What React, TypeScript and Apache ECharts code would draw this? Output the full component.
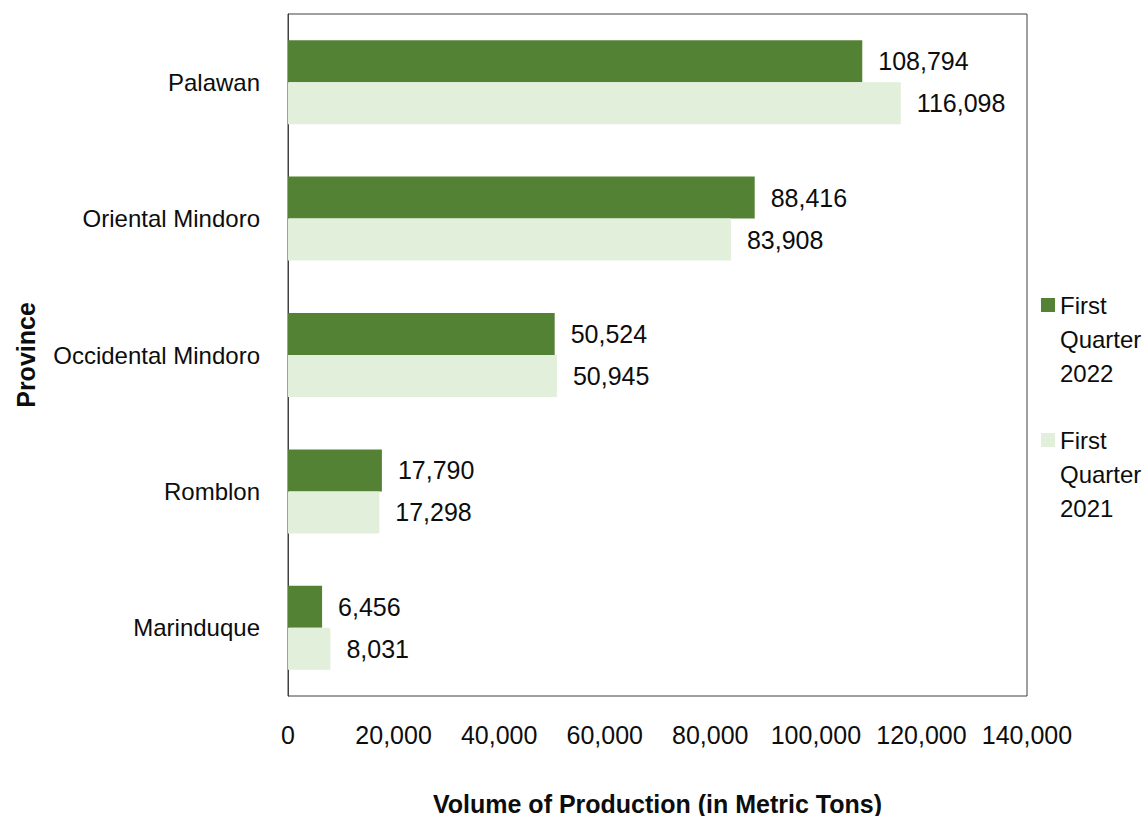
import React, { useEffect, useRef } from "react";
import * as echarts from "echarts";

const provinces = ["Palawan", "Oriental Mindoro", "Occidental Mindoro", "Romblon", "Marinduque"];
const q2022 = [108794, 88416, 50524, 17790, 6456];
const q2021 = [116098, 83908, 50945, 17298, 8031];
const seriesNames = ["First Quarter 2022", "First Quarter 2021"];
const xTicks = { min: 0, max: 140000, interval: 20000 };

const FONT = "'Liberation Sans', Arial, sans-serif";
const ICON = "path://M0,0h0.01v0.01h-0.01z M0,10h14v14h-14z M0,101.99h0.01v0.01h-0.01z";

export default function App() {
  const ref = useRef<HTMLDivElement>(null);
  useEffect(() => {
    document.body.style.margin = "0";
    const chart = echarts.init(ref.current!, null, { renderer: "svg" });
    const fmt = (v: number) => v.toLocaleString("en-US");
    chart.setOption({
      animation: false,
      backgroundColor: "#ffffff",
      textStyle: { fontFamily: FONT },
      grid: {
        left: 288,
        right: 120,
        top: 14,
        bottom: 120,
        containLabel: false,
        outerBoundsMode: "none",
        show: true,
        borderColor: "#404040",
        borderWidth: 1,
      },
      legend: {
        orient: "vertical",
        left: 1041,
        top: 288,
        padding: 0,
        itemWidth: 14,
        itemHeight: 102,
        itemGap: 33,
        icon: ICON,
        formatter: (name: string) => name.split(" ").join("\n"),
        textStyle: { fontFamily: FONT, fontSize: 24, lineHeight: 34, color: "#0d0d0d" },
        data: seriesNames,
      },
      xAxis: {
        type: "value",
        min: xTicks.min,
        max: xTicks.max,
        interval: xTicks.interval,
        splitLine: { show: false },
        axisLine: { show: false },
        axisTick: { show: false },
        axisLabel: {
          fontFamily: FONT,
          fontSize: 25,
          color: "#0d0d0d",
          margin: 26,
          hideOverlap: false,
          showMaxLabel: true,
          formatter: (v: number) => fmt(v),
        },
        name: "Volume of Production (in Metric Tons)",
        nameLocation: "middle",
        nameGap: 95,
        nameTextStyle: { fontFamily: FONT, fontSize: 25, fontWeight: "bold", color: "#0d0d0d" },
      },
      yAxis: {
        type: "category",
        data: provinces,
        inverse: true,
        axisLine: { show: true, lineStyle: { color: "#404040" } },
        axisTick: { show: false },
        axisLabel: { fontFamily: FONT, fontSize: 24, color: "#0d0d0d", margin: 28 },
        name: "Province",
        nameLocation: "middle",
        nameGap: 250,
        nameTextStyle: { fontFamily: FONT, fontSize: 25, fontWeight: "bold", color: "#0d0d0d" },
      },
      series: [
        {
          name: seriesNames[0],
          type: "bar",
          data: q2022,
          barWidth: 42,
          barGap: "0%",
          itemStyle: { color: "#548235" },
          label: {
            show: true,
            position: "right",
            distance: 16,
            fontFamily: FONT,
            fontSize: 25,
            color: "#0d0d0d",
            formatter: (p: any) => fmt(p.value),
          },
        },
        {
          name: seriesNames[1],
          type: "bar",
          data: q2021,
          barWidth: 42,
          barGap: "0%",
          itemStyle: { color: "#E2EFDA" },
          label: {
            show: true,
            position: "right",
            distance: 16,
            fontFamily: FONT,
            fontSize: 25,
            color: "#0d0d0d",
            formatter: (p: any) => fmt(p.value),
          },
        },
      ],
    });
    return () => chart.dispose();
  }, []);
  return <div ref={ref} style={{ width: 1147, height: 816 }} />;
}
